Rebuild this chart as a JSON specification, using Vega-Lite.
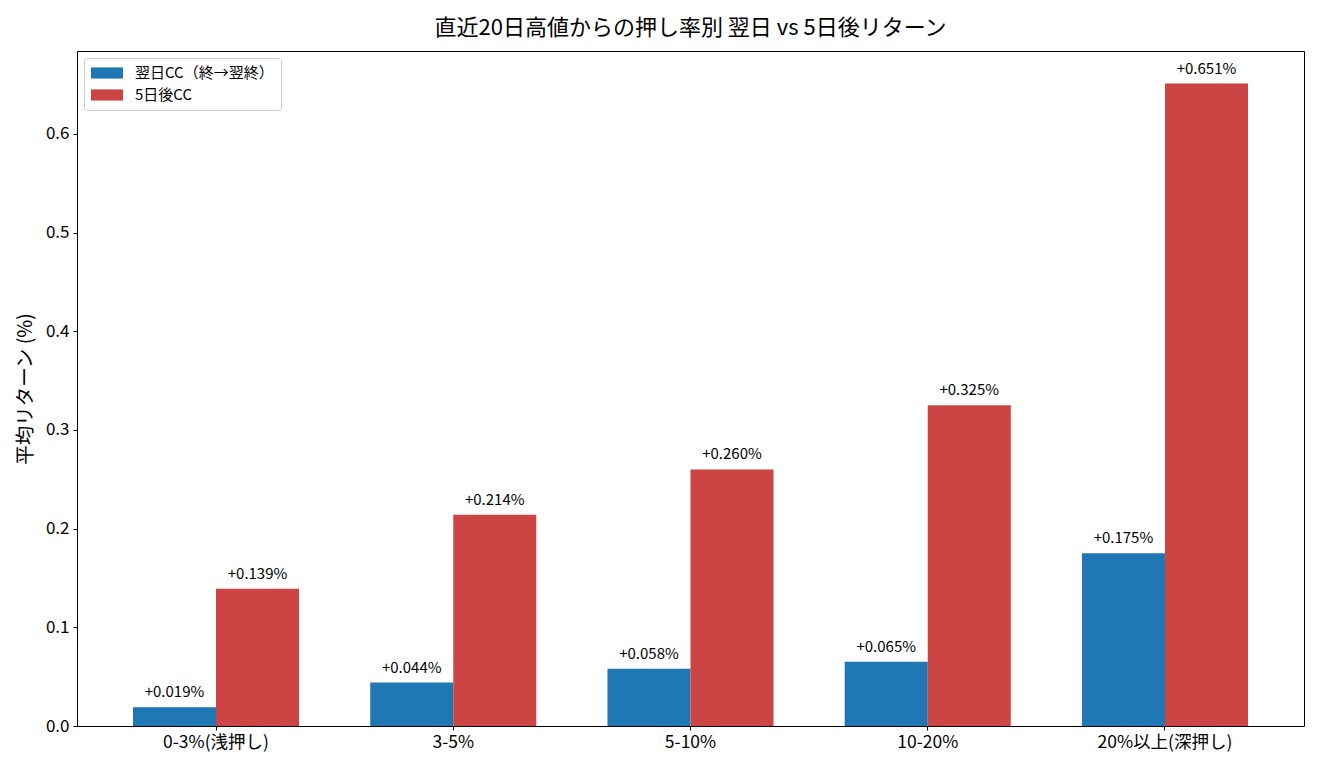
{
  "$schema": "https://vega.github.io/schema/vega-lite/v6.json",
  "autosize": {"type": "none"},
  "padding": {"left": 77, "top": 51, "right": 16, "bottom": 44},
  "width": 1227,
  "height": 675,
  "background": "white",
  "title": {"text": "直近20日高値からの押し率別 翌日 vs 5日後リターン", "fontSize": 22, "fontWeight": "normal", "font": "Noto Sans CJK JP", "color": "black", "offset": 11},
  "config": {
    "view": {"stroke": "black", "strokeWidth": 1},
    "font": "Noto Sans CJK JP",
    "axis": {"grid": false, "domain": false, "tickColor": "black", "labelColor": "black", "titleColor": "black", "labelFont": "Noto Sans CJK JP", "titleFont": "Noto Sans CJK JP"}
  },
  "data": {"values": [
    {"cat": "0-3%(浅押し)", "series": "翌日CC（終→翌終）", "value": 0.019},
    {"cat": "0-3%(浅押し)", "series": "5日後CC", "value": 0.139},
    {"cat": "3-5%", "series": "翌日CC（終→翌終）", "value": 0.044},
    {"cat": "3-5%", "series": "5日後CC", "value": 0.214},
    {"cat": "5-10%", "series": "翌日CC（終→翌終）", "value": 0.058},
    {"cat": "5-10%", "series": "5日後CC", "value": 0.260},
    {"cat": "10-20%", "series": "翌日CC（終→翌終）", "value": 0.065},
    {"cat": "10-20%", "series": "5日後CC", "value": 0.325},
    {"cat": "20%以上(深押し)", "series": "翌日CC（終→翌終）", "value": 0.175},
    {"cat": "20%以上(深押し)", "series": "5日後CC", "value": 0.651}
  ]},
  "transform": [{"calculate": "'+' + format(datum.value, '.3f') + '%'", "as": "label"}],
  "encoding": {
    "x": {"field": "cat", "type": "nominal", "sort": null,
      "scale": {"paddingInner": 0.3, "paddingOuter": 0.236},
      "axis": {"title": null, "labelAngle": 0, "labelFontSize": 17.5, "labelPadding": 3, "tickSize": 4}},
    "xOffset": {"field": "series", "type": "nominal", "sort": ["翌日CC（終→翌終）", "5日後CC"], "scale": {"paddingInner": 0, "paddingOuter": 0}},
    "y": {"field": "value", "type": "quantitative",
      "scale": {"domain": [0, 0.684], "nice": false, "zero": true},
      "axis": {"title": "平均リターン (%)", "titleFontSize": 19.5, "titleFontWeight": "normal", "titlePadding": 10, "format": ".1f", "values": [0, 0.1, 0.2, 0.3, 0.4, 0.5, 0.6], "labelFontSize": 17, "tickSize": 4, "labelPadding": 4}}
  },
  "layer": [
    {"mark": {"type": "bar"},
      "encoding": {"color": {"field": "series", "type": "nominal", "sort": ["翌日CC（終→翌終）", "5日後CC"],
        "scale": {"domain": ["翌日CC（終→翌終）", "5日後CC"], "range": ["#1f77b4", "#cc4444"]},
        "legend": {"title": null, "orient": "top-left", "offset": 7, "labelFontSize": 15, "labelFont": "Noto Sans CJK JP",
          "symbolType": "M-2,-0.7H2V0.7H-2Z", "symbolSize": 256, "symbolStrokeWidth": 0, "symbolOpacity": 1, "symbolOffset": 8,
          "fillColor": "white", "strokeColor": "#cccccc", "cornerRadius": 3, "padding": 7, "rowPadding": 6, "labelOffset": 20}}}},
    {"mark": {"type": "text", "baseline": "alphabetic", "dy": -10, "fontSize": 15, "color": "black"},
      "encoding": {"text": {"field": "label"}}}
  ]
}
